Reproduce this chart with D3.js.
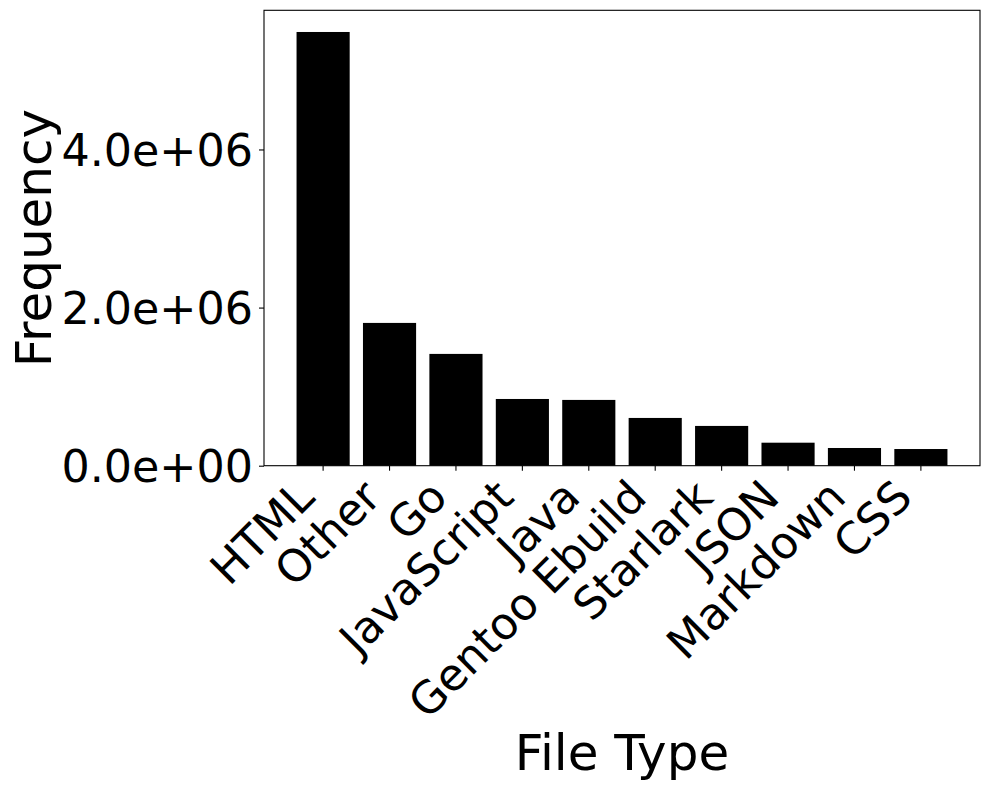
<!DOCTYPE html>
<html>
<head>
<meta charset="utf-8">
<script src="https://cdn.jsdelivr.net/npm/d3@7"></script>
<style>
  body { margin: 0; background: #fff; }
  text { font-family: "DejaVu Sans", sans-serif; fill: #000; }
</style>
</head>
<body>
<svg width="994" height="786"></svg>
<script>
const fileTypes = ["HTML", "Other", "Go", "JavaScript", "Java", "Gentoo Ebuild", "Starlark", "JSON", "Markdown", "CSS"];
const frequencies = [5486000, 1806000, 1414000, 844000, 832000, 604000, 503000, 291000, 224000, 211000];
const yTicks = [0, 2000000, 4000000];

const margin = {top: 10.3, right: 14, bottom: 320.3, left: 264};
const width = 994, height = 786;
const fontSize = 44.4;
const titleSize = 50;

const svg = d3.select("svg");

const x = d3.scaleBand()
    .domain(fileTypes)
    .range([margin.left, width - margin.right])
    .paddingInner(0.2)
    .paddingOuter(0.49);

const y = d3.scaleLinear()
    .domain([0, d3.max(frequencies) * 1.05])
    .range([height - margin.bottom, margin.top]);

// matplotlib-like scientific format: 4.0e+06
let sci = function (v) {
    const s = d3.format(".1e")(v);
    const [m, e] = s.split("e");
    const sign = e[0] === "-" ? "-" : "+";
    const digits = e.replace(/[+-]/, "").padStart(2, "0");
    return m + "e" + sign + digits;
}

svg.append("g")
    .selectAll("rect")
    .data(fileTypes)
    .join("rect")
    .attr("x", d => x(d))
    .attr("width", x.bandwidth())
    .attr("y", (d, i) => y(frequencies[i]))
    .attr("height", (d, i) => y(0) - y(frequencies[i]))
    .attr("fill", "#000");

// y axis
const yAxis = svg.append("g")
    .attr("transform", `translate(${margin.left},0)`)
    .call(d3.axisLeft(y).tickValues(yTicks).tickFormat(sci).tickSizeOuter(0).tickSize(5).tickPadding(6));
yAxis.select(".domain").remove();
yAxis.selectAll("line").attr("stroke", "#000").attr("stroke-width", 1.1);
yAxis.selectAll("text")
    .attr("font-size", fontSize)
    .attr("font-family", "DejaVu Sans")
    .attr("dy", "0.36em");

// x axis
const xAxis = svg.append("g")
    .attr("transform", `translate(0,${height - margin.bottom})`)
    .call(d3.axisBottom(x).tickSizeOuter(0).tickSize(5).tickFormat(""));
xAxis.select(".domain").remove();
xAxis.selectAll("line").attr("stroke", "#000").attr("stroke-width", 1.1);

const ascent = 0.76 * fontSize, descent = 0.208 * fontSize;
const labelTop = height - margin.bottom + 10;
svg.append("g")
    .selectAll("text")
    .data(fileTypes)
    .join("text")
    .attr("font-size", fontSize)
    .attr("text-anchor", "end")
    .attr("transform", d => {
        const ax = x(d) + x.bandwidth() / 2 - 0.707 * descent;
        const ay = labelTop + 0.707 * ascent;
        return `translate(${ax},${ay}) rotate(-45)`;
    })
    .text(d => d);

// frame
svg.append("rect")
    .attr("x", margin.left)
    .attr("y", margin.top)
    .attr("width", width - margin.left - margin.right)
    .attr("height", height - margin.top - margin.bottom)
    .attr("fill", "none")
    .attr("stroke", "#000")
    .attr("stroke-width", 1.1);

// axis titles
svg.append("text")
    .attr("font-size", titleSize)
    .attr("text-anchor", "middle")
    .attr("x", (margin.left + width - margin.right) / 2)
    .attr("y", 770)
    .text("File Type");

svg.append("text")
    .attr("font-size", titleSize)
    .attr("text-anchor", "middle")
    .attr("transform", `translate(51,${(margin.top + height - margin.bottom) / 2}) rotate(-90)`)
    .text("Frequency");
</script>
</body>
</html>
